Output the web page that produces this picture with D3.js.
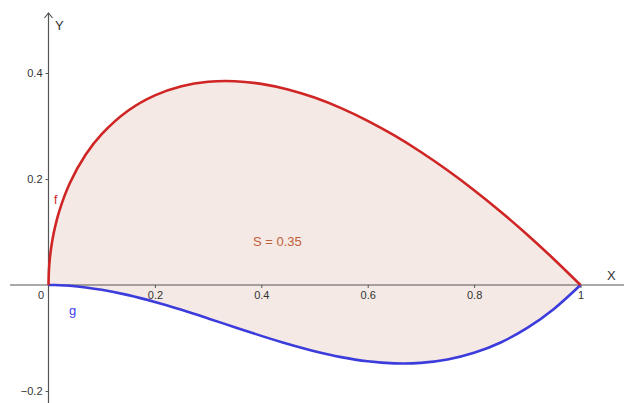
<!DOCTYPE html>
<html><head><meta charset="utf-8">
<script src="https://cdn.jsdelivr.net/npm/d3@7"></script>
<style>body{margin:0;background:#fff}svg{display:block;font-family:"Liberation Sans",Arial,sans-serif}</style>
</head><body><svg id="c" width="624" height="403"></svg>
<script>
const xs = [0,0.001,0.0025,0.005,0.01,0.02,0.04,0.07,0.1,0.15,0.2,0.25,0.3,0.35,0.4,0.45,0.5,0.55,0.6,0.65,0.7,0.75,0.8,0.85,0.9,0.95,1];
const fVals = [0,0.0316,0.0499,0.0704,0.099,0.1386,0.192,0.2461,0.2846,0.3292,0.3578,0.375,0.3834,0.3845,0.3795,0.3689,0.3536,0.3337,0.3098,0.2822,0.251,0.2165,0.1789,0.1383,0.0949,0.0487,0];
const gVals = [0,0,0,0,-0.0001,-0.0004,-0.0015,-0.0046,-0.009,-0.0191,-0.032,-0.0469,-0.063,-0.0796,-0.096,-0.1114,-0.125,-0.1361,-0.144,-0.1479,-0.147,-0.1406,-0.128,-0.1084,-0.081,-0.0451,0];
const xTicks = [0.2,0.4,0.6,0.8,1];
const yTicks = [-0.2,0.2,0.4];
const areaLabel = "S = 0.35";

const W=624,H=403;
const svg=d3.select("#c");
const x=d3.scaleLinear().domain([-48.5/532,(W-48.5)/532]).range([0,W]);
const y=d3.scaleLinear().domain([285/530,-(H-285)/530]).range([0,H]);
const pts=xs.map((v,i)=>({x:v,f:fVals[i],g:gVals[i]}));
const curve=d3.curveCatmullRom.alpha(0.5);

// fill
svg.append("path").datum(pts)
 .attr("d",d3.area().x(d=>x(d.x)).y0(d=>y(d.g)).y1(d=>y(d.f)).curve(curve))
 .attr("fill","#f4e9e4");

// axes
const ax=svg.append("g").attr("transform",`translate(0,${y(0)})`)
 .call(d3.axisBottom(x).tickValues(xTicks).tickSize(3).tickSizeOuter(0).tickFormat(d3.format("")));
ax.select(".domain").remove();
ax.selectAll("line").attr("stroke","#555");
ax.selectAll("text").attr("fill","#333").attr("font-size",11).attr("dy","0.9em").attr("y",4)
 .attr("font-family","Liberation Sans, Arial, sans-serif");
const ay=svg.append("g").attr("transform",`translate(${x(0)},0)`)
 .call(d3.axisLeft(y).tickValues(yTicks).tickSize(3).tickSizeOuter(0).tickFormat(d3.format("")));
ay.select(".domain").remove();
ay.selectAll("line").attr("stroke","#555");
ay.selectAll("text").attr("fill","#333").attr("font-size",11).attr("x",-6)
 .attr("font-family","Liberation Sans, Arial, sans-serif");

svg.append("line").attr("x1",10).attr("x2",W).attr("y1",y(0)).attr("y2",y(0)).attr("stroke","#555").attr("stroke-width",1.2);
svg.append("line").attr("x1",x(0)).attr("x2",x(0)).attr("y1",13).attr("y2",H).attr("stroke","#555").attr("stroke-width",1.2);
svg.append("path").attr("d",`M${x(0)-4},${18} L${x(0)},${13} L${x(0)+4},${18}`).attr("fill","none").attr("stroke","#555").attr("stroke-width",1.2);

svg.append("text").attr("x",38).attr("y",299).attr("font-size",11).attr("fill","#333").text("0");
svg.append("text").attr("x",55).attr("y",30).attr("font-size",13).attr("fill","#333").text("Y");
svg.append("text").attr("x",607).attr("y",280).attr("font-size",13).attr("fill","#333").text("X");

// curves
const line=k=>d3.line().x(d=>x(d.x)).y(d=>y(d[k])).curve(curve);
svg.append("path").datum(pts).attr("d",line("g")).attr("fill","none").attr("stroke","#3c3cdc").attr("stroke-width",2.6);
svg.append("path").datum(pts).attr("d",line("f")).attr("fill","none").attr("stroke","#d02525").attr("stroke-width",2.6);

svg.append("text").attr("x",54).attr("y",204).attr("font-size",12).attr("fill","#cc2020").text("f");
svg.append("text").attr("x",69).attr("y",315).attr("font-size",13).attr("fill","#3c3cf0").text("g");
svg.append("text").attr("x",253).attr("y",246).attr("font-size",13).attr("fill","#c0603a").text(areaLabel);
</script></body></html>
